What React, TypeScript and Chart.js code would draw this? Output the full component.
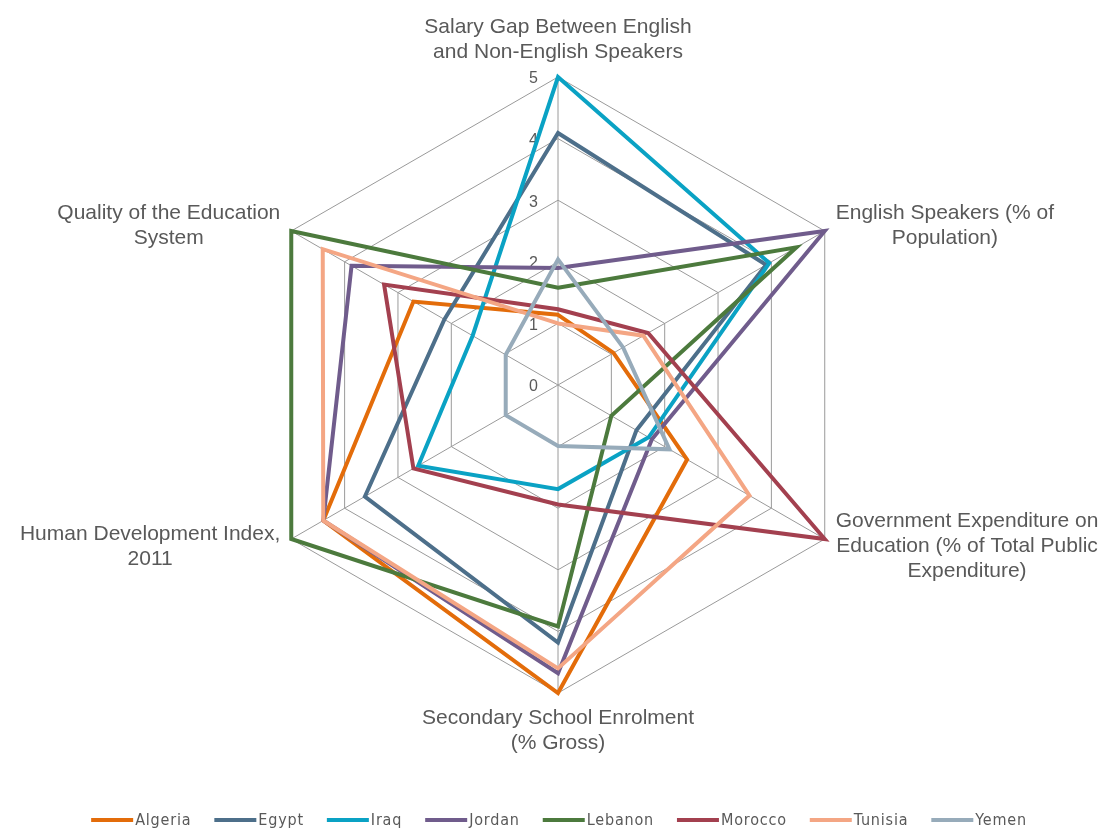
import { useEffect, useRef } from "react";
import { Chart, registerables } from "chart.js";

Chart.register(...registerables);

// ---- Data ----
const axisLabels: string[][] = [
  ["Salary Gap Between English", "and Non-English Speakers"],
  ["English Speakers (% of", "Population)"],
  ["Government Expenditure on", "Education (% of Total Public", "Expenditure)"],
  ["Secondary School Enrolment", "(% Gross)"],
  ["Human Development Index,", "2011"],
  ["Quality of the Education", "System"],
];

const countries = ["Algeria", "Egypt", "Iraq", "Jordan", "Lebanon", "Morocco", "Tunisia", "Yemen"];

const algeria = [1.14, 1.04, 2.42, 5.0, 4.4, 2.71];
const egypt = [4.09, 3.9, 1.47, 4.18, 3.62, 2.13];
const iraq = [5.0, 3.96, 1.7, 1.69, 2.62, 1.6];
const jordan = [1.9, 5.0, 1.76, 4.68, 4.4, 3.87];
const lebanon = [1.58, 4.47, 1.0, 3.92, 5.0, 5.0];
const morocco = [1.23, 1.69, 5.0, 1.94, 2.71, 3.26];
const tunisia = [1.0, 1.6, 3.59, 4.6, 4.4, 4.41];
const yemen = [2.04, 1.22, 2.09, 0.99, 0.98, 0.98];

const seriesValues = [algeria, egypt, iraq, jordan, lebanon, morocco, tunisia, yemen];

const seriesColors = [
  "#E36C0A",
  "#4D6F8A",
  "#0AA2C4",
  "#705C8C",
  "#4C7A3D",
  "#A3404F",
  "#F4A684",
  "#97ABBA",
];

const tickValues = [0, 1, 2, 3, 4, 5];

// ---- Styling ----
const TEXT_COLOR = "#595959";
const GRID_COLOR = "#9A9A9A";
const LABEL_FONT = "21px 'Liberation Sans', Arial, sans-serif";
const TICK_FONT = "16px 'Liberation Sans', Arial, sans-serif";
const LEGEND_FONT = "16px 'Liberation Sans Narrow', 'DejaVu Sans Condensed', 'Arial Narrow', sans-serif";
const LABEL_LINE_H = 25;

const overlayPlugin = {
  id: "overlay",
  beforeDatasetsDraw(chart: any) {
    const scale = chart.scales.r;
    const ctx = chart.ctx;
    ctx.save();
    ctx.font = TICK_FONT;
    ctx.fillStyle = TEXT_COLOR;
    ctx.textAlign = "right";
    ctx.textBaseline = "middle";
    tickValues.forEach((v) => {
      const d = scale.getDistanceFromCenterForValue(v);
      ctx.fillText(String(v), scale.xCenter - 20, scale.yCenter - d + 2);
    });
    ctx.restore();
  },
  afterDraw(chart: any) {
    const scale = chart.scales.r;
    const ctx = chart.ctx;
    ctx.save();
    // Point labels
    ctx.font = LABEL_FONT;
    ctx.fillStyle = TEXT_COLOR;
    ctx.textBaseline = "middle";
    ctx.textAlign = "center";
    axisLabels.forEach((lines, i) => {
      const p = scale.getPointPositionForValue(i, scale.max);
      const widths = lines.map((l) => ctx.measureText(l).width);
      const maxW = Math.max(...widths);
      const n = lines.length;
      let cx = p.x;
      let firstY = p.y;
      if (i === 0) {
        firstY = p.y - 25 - (n - 1) * LABEL_LINE_H;
      } else if (i === 3) {
        firstY = p.y + 25;
      } else {
        const dy = i === 1 || i === 5 ? -5 : 7.5;
        const blockCenter = p.y + dy;
        firstY = blockCenter - ((n - 1) * LABEL_LINE_H) / 2;
        cx = i === 1 || i === 2 ? p.x + 11 + maxW / 2 : p.x - 11 - maxW / 2;
      }
      lines.forEach((l, k) => ctx.fillText(l, cx, firstY + k * LABEL_LINE_H));
    });

    // Legend
    ctx.font = LEGEND_FONT;
    ctx.textAlign = "left";
    try {
      (ctx as any).letterSpacing = "0.8px";
    } catch (e) {
      /* ignore */
    }
    const lineLen = 42;
    const textGap = 2;
    const itemGap = 23;
    const textW = countries.map((c) => ctx.measureText(c).width);
    const total =
      textW.reduce((a, b) => a + b, 0) + countries.length * (lineLen + textGap) + (countries.length - 1) * itemGap;
    let x = 559 - total / 2;
    const y = 820;
    countries.forEach((c, i) => {
      ctx.strokeStyle = seriesColors[i];
      ctx.lineWidth = 4;
      ctx.beginPath();
      ctx.moveTo(x, y);
      ctx.lineTo(x + lineLen, y);
      ctx.stroke();
      ctx.fillStyle = TEXT_COLOR;
      ctx.fillText(c, x + lineLen + textGap, y + 1);
      x += lineLen + textGap + textW[i] + itemGap;
    });
    ctx.restore();
  },
};

export default function App() {
  const canvasRef = useRef<HTMLCanvasElement | null>(null);

  useEffect(() => {
    const canvas = canvasRef.current;
    if (!canvas) return;
    const chart = new Chart(canvas, {
      type: "radar",
      data: {
        labels: axisLabels.map((l) => l.join(" ")),
        datasets: countries.map((name, i) => ({
          label: name,
          data: seriesValues[i],
          borderColor: seriesColors[i],
          backgroundColor: seriesColors[i],
          borderWidth: 4,
          fill: false,
          pointRadius: 0,
          pointHoverRadius: 0,
          tension: 0,
          order: countries.length - i,
        })),
      },
      options: {
        responsive: false,
        animation: false,
        devicePixelRatio: 1,
        layout: { padding: { left: 250, right: 244, top: 77, bottom: 137 } },
        plugins: {
          legend: { display: false },
          tooltip: { enabled: false },
        },
        scales: {
          r: {
            min: 0,
            max: 5,
            ticks: { display: false, stepSize: 1 },
            pointLabels: { display: false },
            grid: { color: GRID_COLOR, lineWidth: 1 },
            angleLines: { color: GRID_COLOR, lineWidth: 1 },
          },
        },
      },
      plugins: [overlayPlugin],
    });
    return () => chart.destroy();
  }, []);

  return (
    <div style={{ position: "fixed", left: 0, top: 0, width: 1110, height: 830, background: "#fff" }}>
      <canvas ref={canvasRef} width={1110} height={830} style={{ display: "block" }} />
    </div>
  );
}
